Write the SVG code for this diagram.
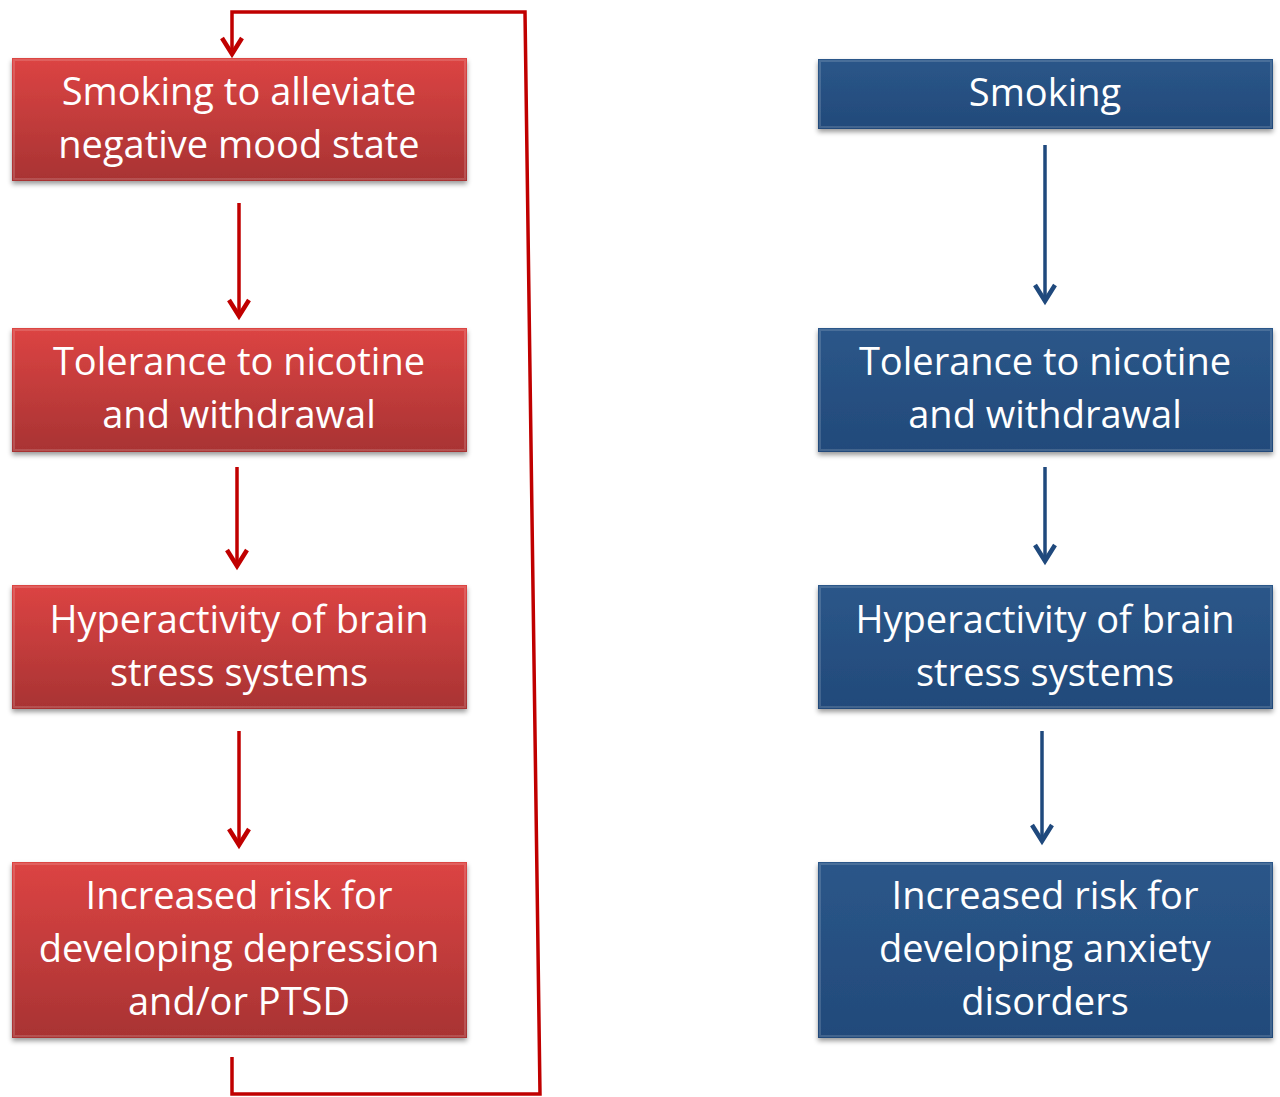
<svg xmlns="http://www.w3.org/2000/svg" width="1280" height="1097" viewBox="0 0 1280 1097">
<defs>
<linearGradient id="gr" x1="0" y1="0" x2="0" y2="1">
<stop offset="0" stop-color="#dc4443"/><stop offset="1" stop-color="#a83333"/>
</linearGradient>
<linearGradient id="gb" x1="0" y1="0" x2="0" y2="1">
<stop offset="0" stop-color="#2b5689"/><stop offset="1" stop-color="#224a7a"/>
</linearGradient>
<filter id="sh" x="-5%" y="-10%" width="110%" height="125%">
<feDropShadow dx="0" dy="3" stdDeviation="2.5" flood-color="#000" flood-opacity="0.4"/>
</filter>
</defs>
<style>
.t{font-family:"Open Sans","Noto Sans",sans-serif;font-size:38px;fill:#fff;text-anchor:middle}
.r{fill:url(#gr);filter:url(#sh)}
.b{fill:url(#gb);filter:url(#sh)}
.hl{fill:none;stroke:#fff;stroke-opacity:0.15;stroke-width:2}
.cr{fill:none;stroke:#c00000;stroke-width:3.5}
.cb{fill:none;stroke:#1f497d;stroke-width:3.5}
.h{stroke-width:4.5;stroke-linejoin:miter}
</style>
<g id="connectors">
<path class="cr" d="M232,1057 V1094 H540 L525,12 H232 V52"/>
<path class="cr h" d="M222,38 L232,54 L242,38"/>
<path class="cr" d="M239,203 V314"/><path class="cr h" d="M229,300 L239,316 L249,300"/>
<path class="cr" d="M237,467 V564"/><path class="cr h" d="M227,550 L237,566 L247,550"/>
<path class="cr" d="M239,731 V843"/><path class="cr h" d="M229,829 L239,845 L249,829"/>
<path class="cb" d="M1045,145 V299"/><path class="cb h" d="M1035,285 L1045,301 L1055,285"/>
<path class="cb" d="M1045,467 V559"/><path class="cb h" d="M1035,545 L1045,561 L1055,545"/>
<path class="cb" d="M1042,731 V839"/><path class="cb h" d="M1032,825 L1042,841 L1052,825"/>
</g>
<g id="r1"><rect class="r" x="12" y="58" width="455" height="123"/><rect class="hl" x="14" y="60" width="451" height="119"/>
<text class="t" x="239" y="105">Smoking to alleviate</text><text class="t" x="239" y="158">negative mood state</text></g>
<g id="r2"><rect class="r" x="12" y="328" width="455" height="124"/><rect class="hl" x="14" y="330" width="451" height="120"/>
<text class="t" x="239" y="375">Tolerance to nicotine</text><text class="t" x="239" y="428">and withdrawal</text></g>
<g id="r3"><rect class="r" x="12" y="585" width="455" height="124"/><rect class="hl" x="14" y="587" width="451" height="120"/>
<text class="t" x="239" y="633">Hyperactivity of brain</text><text class="t" x="239" y="686">stress systems</text></g>
<g id="r4"><rect class="r" x="12" y="862" width="455" height="176"/><rect class="hl" x="14" y="864" width="451" height="172"/>
<text class="t" x="239" y="909">Increased risk for</text><text class="t" x="239" y="962">developing depression</text><text class="t" x="239" y="1015">and/or PTSD</text></g>
<g id="b1"><rect class="b" x="818" y="59" width="455" height="70"/><rect class="hl" x="820" y="61" width="451" height="66"/>
<text class="t" x="1045" y="106">Smoking</text></g>
<g id="b2"><rect class="b" x="818" y="328" width="455" height="124"/><rect class="hl" x="820" y="330" width="451" height="120"/>
<text class="t" x="1045" y="375">Tolerance to nicotine</text><text class="t" x="1045" y="428">and withdrawal</text></g>
<g id="b3"><rect class="b" x="818" y="585" width="455" height="124"/><rect class="hl" x="820" y="587" width="451" height="120"/>
<text class="t" x="1045" y="633">Hyperactivity of brain</text><text class="t" x="1045" y="686">stress systems</text></g>
<g id="b4"><rect class="b" x="818" y="862" width="455" height="176"/><rect class="hl" x="820" y="864" width="451" height="172"/>
<text class="t" x="1045" y="909">Increased risk for</text><text class="t" x="1045" y="962">developing anxiety</text><text class="t" x="1045" y="1015">disorders</text></g>
</svg>
